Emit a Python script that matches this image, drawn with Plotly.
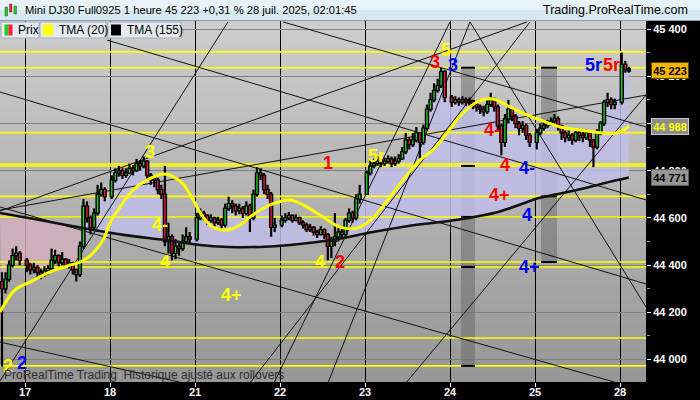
import plotly.graph_objects as go

# ---------------- data ----------------
day_ticks = [0, 1, 2, 3, 4, 5, 6, 7]
day_labels = ["17", "18", "21", "22", "23", "24", "25", "28"]

hours_16 = [17, 18, 19, 20, 21, 22]
hours_full = list(range(23))
hours_28 = [0, 1, 2]

first_open = 44330

close_16 = [44300, 44340, 44400, 44440, 44450, 44420]
high_16 = [44370, 44370, 44420, 44470, 44480, 44460]
low_16 = [43970, 44280, 44330, 44390, 44420, 44400]

close_17 = [44400, 44380, 44390, 44370, 44360, 44375, 44385, 44420, 44440, 44410, 44425, 44400,
            44410, 44380, 44360, 44480, 44650, 44600, 44560, 44620, 44700, 44720, 44690]
high_17 = [44430, 44410, 44410, 44400, 44385, 44395, 44400, 44470, 44465, 44445, 44455, 44430,
           44425, 44415, 44385, 44500, 44680, 44670, 44610, 44640, 44740, 44750, 44730]
low_17 = [44370, 44360, 44365, 44350, 44340, 44350, 44360, 44380, 44405, 44395, 44400, 44390,
          44385, 44360, 44330, 44350, 44470, 44580, 44530, 44550, 44610, 44690, 44670]

close_18 = [44760, 44790, 44800, 44780, 44790, 44810, 44800, 44830, 44820, 44840, 44780, 44770,
            44760, 44720, 44700, 44500, 44520, 44450, 44480, 44470, 44500, 44520, 44510]
high_18 = [44780, 44810, 44820, 44810, 44810, 44830, 44825, 44850, 44845, 44860, 44845, 44790,
           44780, 44770, 44740, 44820, 44580, 44530, 44510, 44500, 44530, 44560, 44540]
low_18 = [44680, 44750, 44775, 44765, 44770, 44785, 44780, 44795, 44800, 44810, 44760, 44740,
          44730, 44700, 44680, 44480, 44450, 44420, 44425, 44440, 44460, 44490, 44490]

close_21 = [44600, 44620, 44610, 44590, 44600, 44580, 44590, 44570, 44640, 44660, 44650, 44630,
            44640, 44620, 44650, 44600, 44700, 44790, 44780, 44720, 44700, 44560, 44570]
high_21 = [44620, 44640, 44630, 44615, 44615, 44605, 44605, 44600, 44660, 44690, 44675, 44660,
           44660, 44650, 44670, 44660, 44720, 44815, 44810, 44790, 44740, 44710, 44600]
low_21 = [44500, 44590, 44590, 44570, 44580, 44560, 44570, 44550, 44560, 44630, 44620, 44610,
          44615, 44600, 44610, 44540, 44590, 44690, 44760, 44700, 44680, 44520, 44540]

close_22 = [44590, 44600, 44610, 44590, 44600, 44580, 44570, 44550, 44560, 44540, 44530, 44550,
            44530, 44480, 44500, 44520, 44540, 44530, 44590, 44620, 44600, 44680, 44700]
high_22 = [44610, 44620, 44625, 44615, 44615, 44605, 44590, 44580, 44575, 44565, 44550, 44565,
           44555, 44535, 44520, 44620, 44560, 44560, 44600, 44640, 44630, 44700, 44740]
low_22 = [44560, 44580, 44590, 44580, 44585, 44570, 44555, 44540, 44540, 44525, 44515, 44525,
          44510, 44420, 44430, 44480, 44500, 44510, 44520, 44580, 44580, 44590, 44660]

close_23 = [44790, 44820, 44830, 44840, 44830, 44840, 44850, 44830, 44840, 44850, 44880, 44930,
            44910, 44930, 44960, 44920, 44980, 45060, 45100, 45140, 45160, 45220, 45110]
high_23 = [44800, 44845, 44850, 44860, 44850, 44855, 44865, 44860, 44860, 44870, 44900, 44960,
           44940, 44960, 44985, 44960, 44995, 45080, 45130, 45170, 45190, 45235, 45225]
low_23 = [44700, 44780, 44810, 44820, 44815, 44820, 44830, 44815, 44820, 44830, 44845, 44870,
          44890, 44900, 44920, 44850, 44910, 44970, 45050, 45090, 45130, 45150, 45090]

close_24 = [45090, 45100, 45090, 45100, 45090, 45095, 45080, 45070, 45060, 45050, 45080, 45100,
            45070, 44990, 44920, 45020, 45060, 45030, 45000, 44980, 44990, 44950, 44920]
high_24 = [45120, 45115, 45110, 45115, 45110, 45110, 45100, 45090, 45080, 45075, 45100, 45130,
           45110, 45080, 45000, 45040, 45100, 45070, 45040, 45010, 45010, 45000, 44960]
low_24 = [45070, 45080, 45075, 45080, 45075, 45075, 45060, 45050, 45040, 45030, 45040, 45070,
          45050, 44970, 44865, 44900, 45000, 45010, 44980, 44950, 44960, 44930, 44900]

close_25 = [44960, 44980, 44990, 45000, 45010, 45020, 44990, 44960, 44940, 44950, 44930, 44960,
            44950, 44940, 44960, 44930, 44900, 44960, 45000, 45090, 45100, 45080, 45090]
high_25 = [44975, 45000, 45005, 45015, 45025, 45040, 45030, 44995, 44970, 44970, 44960, 44975,
           44970, 44965, 44975, 44965, 44935, 44975, 45010, 45100, 45130, 45110, 45105]
low_25 = [44890, 44950, 44970, 44980, 44990, 45000, 44970, 44930, 44920, 44925, 44910, 44920,
          44925, 44920, 44930, 44900, 44815, 44890, 44950, 44990, 45070, 45060, 45060]

close_28 = [45250, 45230, 45223]
high_28 = [45300, 45265, 45240]
low_28 = [45080, 45215, 45215]

# TMA readings (time in session-day units, value)
tma20_t = [-0.294, -0.118, 0.059, 0.294, 0.529, 0.647, 0.765, 0.918, 1.0, 1.118, 1.271, 1.435,
           1.624, 1.729, 1.859, 1.965, 2.094, 2.212, 2.376, 2.529, 2.647, 2.882, 3.118, 3.271,
           3.506, 3.706, 3.906, 4.024, 4.176, 4.294, 4.447, 4.647, 4.8, 4.965, 5.153, 5.318,
           5.435, 5.553, 5.706, 5.906, 6.059, 6.294, 6.529, 6.8, 6.965, 7.104]
tma20_v = [44201, 44295, 44328, 44371, 44400, 44413, 44439, 44506, 44578, 44646, 44718, 44760,
           44786, 44777, 44744, 44684, 44604, 44561, 44549, 44570, 44604, 44655, 44676, 44655,
           44604, 44561, 44557, 44578, 44633, 44688, 44760, 44845, 44888, 44960, 45044, 45091,
           45104, 45099, 45070, 45036, 45015, 44985, 44972, 44960, 44960, 44988]

tma155_t = [-0.294, 0.176, 0.682, 1.176, 1.659, 2.059, 2.388, 2.765, 3.118, 3.612, 4.094, 4.588,
            5.071, 5.565, 6.047, 6.212, 6.541, 6.824, 7.104]
tma155_v = [44621, 44591, 44557, 44527, 44506, 44485, 44477, 44477, 44485, 44506, 44540, 44570,
            44591, 44625, 44684, 44697, 44722, 44748, 44771]

# horizontal levels
levels = [45303, 45236, 44961, 44828, 44820, 44691, 44604, 44413, 44392, 44091, 43973]

# trend lines: (t0, p0, t1, p1)
trend_lines = [
    (-0.294, 45133, 7.306, 44320),
    (3.035, 45430, 7.306, 44985),
    (0.965, 45353, 7.306, 44676),
    (-0.294, 43909, 2.388, 45430),
    (2.647, 43901, 5.941, 45430),
    (2.929, 43901, 5.000, 45430),
    (3.565, 43901, 5.235, 45430),
    (5.235, 45430, 7.306, 44223),
    (-0.294, 44074, 1.859, 43901),
    (-0.294, 44629, 5.906, 45430),
    (-0.294, 44633, 7.306, 45120),
    (4.482, 43901, 7.306, 45120),
    (-0.294, 44646, 6.929, 43905),
]

# gray zones
zone_t0 = [5.129, 6.071]
zone_t1 = [5.294, 6.259]
zone_top = [45236, 45236]
zone_bottom = [43973, 44413]
zone_caps = [[45236, 44820, 44604, 44392, 43973], [45236, 44691, 44413]]

# wave labels: (text, t, price, colour)
wave_labels = [
    ("2", -0.20, 43973, "#FFFF00"), ("2", -0.035, 43985, "#0000FF"),
    ("3", 1.47, 44879, "#FFFF00"), ("4-", 1.588, 44570, "#FFFF00"),
    ("4", 1.647, 44413, "#FFFF00"), ("4+", 2.435, 44273, "#FFFF00"),
    ("1", 3.565, 44832, "#FF0000"), ("5r", 4.14, 44862, "#FFFF00"),
    ("4", 3.47, 44413, "#FFFF00"), ("2", 3.706, 44413, "#FF0000"),
    ("3", 4.824, 45260, "#FF0000"), ("5", 4.953, 45311, "#FFFF00"),
    ("3", 5.035, 45248, "#0000FF"), ("4-", 5.494, 44972, "#FF0000"),
    ("4", 5.647, 44824, "#FF0000"), ("4-", 5.906, 44811, "#0000FF"),
    ("4+", 5.588, 44697, "#FF0000"), ("4", 5.906, 44612, "#0000FF"),
    ("4+", 5.94, 44392, "#0000FF"), ("5r", 6.69, 45248, "#0000FF"),
    ("5r", 6.895, 45248, "#FF0000"),
]

header_text = "Mini DJ30 Full0925 1 heure 45 223 +0,31 % 28 juil. 2025, 02:01:45"

# ---------------- build bars ----------------
sessions = [
    (-1, hours_16, close_16, high_16, low_16),
    (0, hours_full, close_17, high_17, low_17),
    (1, hours_full, close_18, high_18, low_18),
    (2, hours_full, close_21, high_21, low_21),
    (3, hours_full, close_22, high_22, low_22),
    (4, hours_full, close_23, high_23, low_23),
    (5, hours_full, close_24, high_24, low_24),
    (6, hours_full, close_25, high_25, low_25),
    (7, hours_28, close_28, high_28, low_28),
]
T, C, H, L = [], [], [], []
for di, hrs, cc, hh, ll in sessions:
    for k, hr in enumerate(hrs):
        T.append(di + (hr + 0.5) / 24.0)
        C.append(cc[k]); H.append(hh[k]); L.append(ll[k])
O = [first_open] + C[:-1]
H = [max(h, o, c) for h, o, c in zip(H, O, C)]
L = [min(l, o, c) for l, o, c in zip(L, O, C)]

# ---------------- geometry helpers (chrome only) ----------------
W, HGT = 700, 400
ML, MR, MT, MB = 0, 54, 21, 18
PW = W - ML - MR
PH = HGT - MT - MB
X_RANGE = [-25 / 85, (PW - 25) / 85]
Y_RANGE = [43904.9, 45433.9]


def pxx(x):
    return (x - ML) / PW


def pxy(y):
    return (MT + PH - y) / PH


FONT = "Liberation Sans, Arial, sans-serif"

fig = go.Figure()

# fills between close and TMA155
cross_t = tma155_t[2]
pink_ti = [i for i, t in enumerate(tma155_t) if t <= cross_t]
pink_bi = [i for i, t in enumerate(T) if t <= cross_t]
lav_ti = [i for i, t in enumerate(tma155_t) if t >= cross_t]
lav_bi = [i for i, t in enumerate(T) if t >= T[pink_bi[-1]]]

fig.add_trace(go.Scatter(x=[tma155_t[i] for i in pink_ti], y=[tma155_v[i] for i in pink_ti],
                         mode="lines", line=dict(width=0, shape="spline"), hoverinfo="skip"))
fig.add_trace(go.Scatter(x=[T[i] for i in pink_bi], y=[C[i] for i in pink_bi], mode="lines",
                         line=dict(width=0), fill="tonexty", fillcolor="rgba(212,176,190,0.85)",
                         hoverinfo="skip"))
fig.add_trace(go.Scatter(x=[tma155_t[i] for i in lav_ti], y=[tma155_v[i] for i in lav_ti],
                         mode="lines", line=dict(width=0, shape="spline"), hoverinfo="skip"))
fig.add_trace(go.Scatter(x=[T[i] for i in lav_bi], y=[C[i] for i in lav_bi], mode="lines",
                         line=dict(width=0), fill="tonexty", fillcolor="rgba(192,190,230,0.85)",
                         hoverinfo="skip"))

# horizontal yellow levels
lx, ly = [], []
for v in levels:
    lx += [X_RANGE[0], X_RANGE[1], None]
    ly += [v, v, None]
fig.add_trace(go.Scatter(x=lx, y=ly, mode="lines", line=dict(color="#FFFF00", width=1.6),
                         hoverinfo="skip"))

# trend lines
tx, ty = [], []
for t0, p0, t1, p1 in trend_lines:
    tx += [t0, t1, None]
    ty += [p0, p1, None]
fig.add_trace(go.Scatter(x=tx, y=ty, mode="lines", line=dict(color="#111111", width=1),
                         hoverinfo="skip"))

# zone caps
cx, cy = [], []
for z, caps in enumerate(zone_caps):
    for v in caps:
        cx += [zone_t0[z], zone_t1[z], None]
        cy += [v, v, None]
fig.add_trace(go.Scatter(x=cx, y=cy, mode="lines", line=dict(color="black", width=2),
                         hoverinfo="skip"))

# candles drawn as segments: black wick, black body, thin coloured core
wx, wy, bx, by, gx, gy, rx, ry = [], [], [], [], [], [], [], []
for t, o, h, l, c in zip(T, O, H, L, C):
    wx += [t, t, None]
    wy += [l, h, None]
    lo, hi = min(o, c), max(o, c)
    if hi - lo < 10:
        mid = (hi + lo) / 2
        lo, hi = mid - 5, mid + 5
    bx += [t, t, None]
    by += [lo - 3, hi + 3, None]
    if max(o, c) - min(o, c) > 8:
        seg = [min(o, c) + 2, max(o, c) - 2, None]
        if c >= o:
            gx += [t, t, None]; gy += seg
        else:
            rx += [t, t, None]; ry += seg
fig.add_trace(go.Scatter(x=wx, y=wy, mode="lines", line=dict(color="black", width=2.2),
                         hoverinfo="skip"))
fig.add_trace(go.Scatter(x=bx, y=by, mode="lines", line=dict(color="black", width=4.4),
                         hoverinfo="skip"))
fig.add_trace(go.Scatter(x=gx, y=gy, mode="lines", line=dict(color="#22DD22", width=1.3),
                         hoverinfo="skip"))
fig.add_trace(go.Scatter(x=rx, y=ry, mode="lines", line=dict(color="#FF1A40", width=1.3),
                         hoverinfo="skip"))

# TMA lines
fig.add_trace(go.Scatter(x=tma155_t, y=tma155_v, mode="lines",
                         line=dict(color="#111111", width=2.6, shape="spline"), hoverinfo="skip"))
fig.add_trace(go.Scatter(x=tma20_t, y=tma20_v, mode="lines",
                         line=dict(color="#FFFF00", width=3, shape="spline"), hoverinfo="skip"))

shapes = []
# background gradient (overlapping bands to avoid seams)
NB = 30
for i in range(NB):
    g = int(round(150 + (206 - 150) * (i + 0.5) / NB))
    shapes.append(dict(type="rect", xref="paper", yref="paper", x0=0, x1=1, y0=i / NB,
                       y1=min(1.0, (i + 1) / NB + 0.02),
                       fillcolor=f"rgb({g},{g},{g})", line=dict(width=0), layer="below"))
# zones
for z in range(len(zone_t0)):
    shapes.append(dict(type="rect", xref="x", yref="y", x0=zone_t0[z], x1=zone_t1[z],
                       y0=zone_bottom[z], y1=zone_top[z], fillcolor="rgba(95,95,95,0.45)",
                       line=dict(width=0), layer="between"))
# header
shapes.append(dict(type="rect", xref="paper", yref="paper", x0=pxx(0), x1=pxx(W), y0=pxy(10),
                   y1=pxy(0), fillcolor="rgb(232,243,249)", line=dict(width=0)))
shapes.append(dict(type="rect", xref="paper", yref="paper", x0=pxx(0), x1=pxx(W), y0=pxy(21),
                   y1=pxy(10), fillcolor="rgb(214,232,242)", line=dict(width=0)))
shapes.append(dict(type="line", xref="paper", yref="paper", x0=pxx(0), x1=pxx(W), y0=pxy(20.5),
                   y1=pxy(20.5), line=dict(color="rgb(140,160,175)", width=1)))
# header icon
for (a, b, t0, t1, col) in [(5, 7.5, 7, 16, "#22CC22"), (9.5, 12, 4, 12, "#FF1A40"),
                            (14, 16.5, 6, 14, "#22CC22")]:
    shapes.append(dict(type="rect", xref="paper", yref="paper", x0=pxx(a), x1=pxx(b),
                       y0=pxy(t1), y1=pxy(t0), fillcolor=col, line=dict(color="#335533", width=0.5)))
# legend boxes
for (a, b) in [(1, 39), (40, 106), (108, 181)]:
    shapes.append(dict(type="rect", xref="paper", yref="paper", x0=pxx(a), x1=pxx(b),
                       y0=pxy(38), y1=pxy(22), fillcolor="rgb(228,234,239)",
                       line=dict(color="rgb(165,175,185)", width=1)))
for (a, b, col) in [(4.5, 8.5, "#22CC22"), (8.5, 12.5, "#FF1A40"), (43, 53, "#FFFF00"),
                    (111, 121, "#000000")]:
    shapes.append(dict(type="rect", xref="paper", yref="paper", x0=pxx(a), x1=pxx(b),
                       y0=pxy(35.5), y1=pxy(24.5), fillcolor=col, line=dict(width=0)))

annotations = []
for txt, t, p, col in wave_labels:
    annotations.append(dict(x=t, y=p, xref="x", yref="y", text=txt, showarrow=False,
                            font=dict(family=FONT, size=18, color=col, weight="bold")))

annotations.append(dict(x=pxx(23), y=pxy(10.5), xref="paper", yref="paper", text=header_text,
                        showarrow=False, xanchor="left", yanchor="middle",
                        font=dict(family=FONT, size=11.2, color="black")))
annotations.append(dict(x=pxx(690), y=pxy(10.5), xref="paper", yref="paper",
                        text="Trading.ProRealTime.com", showarrow=False, xanchor="right",
                        yanchor="middle", font=dict(family=FONT, size=12.5, color="black")))
for x0, txt in [(16, "Prix"), (57, "TMA (20)"), (125, "TMA (155)")]:
    annotations.append(dict(x=pxx(x0), y=pxy(30), xref="paper", yref="paper", text=txt,
                            showarrow=False, xanchor="left", yanchor="middle",
                            font=dict(family=FONT, size=12, color="black")))
annotations.append(dict(x=pxx(2), y=pxy(375), xref="paper", yref="paper",
                        text="ProRealTime Trading \u00a0Historique ajusté aux rollovers",
                        showarrow=False, xanchor="left", yanchor="middle",
                        font=dict(family=FONT, size=12, color="rgb(45,45,45)")))
# bottom axis day labels
for tv, tl in zip(day_ticks, day_labels):
    annotations.append(dict(x=tv, y=pxy(392), xref="x", yref="paper", text=tl, showarrow=False,
                            xanchor="center", yanchor="middle",
                            font=dict(family=FONT, size=11, color="white", weight="bold")))


def fmt(v):
    return f"{int(round(v)):,}".replace(",", " ")


for val, bg, fg, bc in [(C[-1], "#F7B500", "black", "#5a4a00"),
                        (tma20_v[-1], "rgb(140,140,140)", "#FFFF00", "rgb(200,200,200)"),
                        (tma155_v[-1], "rgb(150,150,150)", "black", "rgb(90,90,90)")]:
    annotations.append(dict(x=pxx(651), y=val, xref="paper", yref="y", text=fmt(val),
                            showarrow=False, xanchor="left", yanchor="middle", bgcolor=bg,
                            bordercolor=bc, borderwidth=1, borderpad=1, width=34, height=13,
                            font=dict(family=FONT, size=11, color=fg, weight="bold")))

fig.update_layout(
    width=W, height=HGT, margin=dict(l=ML, r=MR, t=MT, b=MB, pad=0, autoexpand=False),
    paper_bgcolor="black", plot_bgcolor="rgba(0,0,0,0)",
    showlegend=False, separators=", ",
    shapes=shapes, annotations=annotations,
    xaxis=dict(range=X_RANGE, tickmode="array", tickvals=day_ticks, ticktext=day_labels,
               showticklabels=False,
               showgrid=True, gridcolor="black", gridwidth=1, zeroline=False, showline=False,
               ticks="outside", ticklen=4, tickcolor="white", automargin=False,
               fixedrange=True),
    yaxis=dict(range=Y_RANGE, side="right", dtick=200, tick0=0, tickformat=",d",
               showgrid=True, gridcolor="rgb(128,128,128)", gridwidth=1, zeroline=False,
               showline=False, ticks="outside", ticklen=4, tickcolor="white", automargin=False,
               tickfont=dict(family=FONT, size=11, color="white", weight="bold"),
               minor=dict(dtick=100, ticks="outside", ticklen=3, tickcolor="rgb(150,150,150)",
                          showgrid=False),
               fixedrange=True),
)

fig.write_html("out.html", config={"displayModeBar": False},
               post_script="document.body.style.margin='0px';document.body.style.overflow='hidden';")
